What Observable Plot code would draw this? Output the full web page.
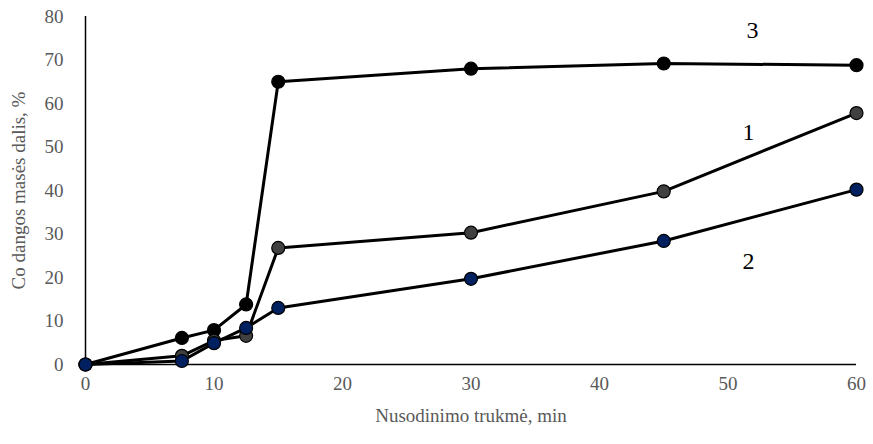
<!DOCTYPE html>
<html><head><meta charset="utf-8">
<script src="https://cdn.jsdelivr.net/npm/d3@7"></script>
<script src="https://cdn.jsdelivr.net/npm/@observablehq/plot@0.6"></script>
<style>
html,body{margin:0;padding:0;background:#fff;}
</style>
</head><body>
<div id="chart"></div>
<script>
const times = [0, 7.5, 10, 12.5, 15, 30, 45, 60];
const series1 = [0, 2.0, 5.5, 6.6, 26.8, 30.3, 39.8, 57.8];
const series2 = [0, 0.8, 4.9, 8.4, 13.0, 19.7, 28.4, 40.2];
const series3 = [0, 6.1, 7.9, 13.8, 65.0, 68.0, 69.2, 68.8];
const seriesNames = ["1", "2", "3"];
const seriesFill = ["#404040", "#002060", "#000000"];
const labelX = [51.6, 51.6, 51.9];
const labelY = [53.3, 23.8, 76.8];
const xTicks = [0, 10, 20, 30, 40, 50, 60];
const yTicks = [0, 10, 20, 30, 40, 50, 60, 70, 80];

const allSeries = [series1, series2, series3];
const rows = [];
allSeries.forEach((vals, i) => vals.forEach((v, j) => rows.push({t: times[j], v, s: seriesNames[i]})));
const labels = seriesNames.map((s, i) => ({s, x: labelX[i], y: labelY[i]}));
const order = ["3", "1", "2"];

const chart = Plot.plot({
  width: 873, height: 444,
  marginLeft: 85, marginRight: 17, marginTop: 16, marginBottom: 80,
  style: {background: "#fff", fontFamily: "Liberation Serif", fontSize: "19px", color: "#595959"},
  x: {domain: [0, 60], ticks: xTicks, tickSize: 0, tickPadding: 12, label: "Nusodinimo trukmė, min", labelAnchor: "center", labelArrow: "none", labelOffset: 57},
  y: {domain: [0, 80], ticks: yTicks, tickSize: 0, tickPadding: 22, label: "Co dangos masės dalis, %", labelAnchor: "center", labelArrow: "none", labelOffset: 74},
  color: {domain: seriesNames, range: seriesFill},
  marks: [
    Plot.ruleX([0], {stroke: "#000", strokeWidth: 1.5}),
    Plot.ruleY([0], {stroke: "#000", strokeWidth: 1.5}),
    ...order.map(s => Plot.line(rows.filter(d => d.s === s), {x: "t", y: "v", stroke: "#000", strokeWidth: 3})),
    ...order.map(s => Plot.dot(rows.filter(d => d.s === s), {x: "t", y: "v", r: 6.5, fill: "s", stroke: "#000", strokeWidth: 1.2})),
    Plot.text(labels, {x: "x", y: "y", text: "s", fill: "#000", fontSize: 24, fontFamily: "Liberation Serif"})
  ]
});
document.getElementById("chart").appendChild(chart);
</script>
</body></html>
